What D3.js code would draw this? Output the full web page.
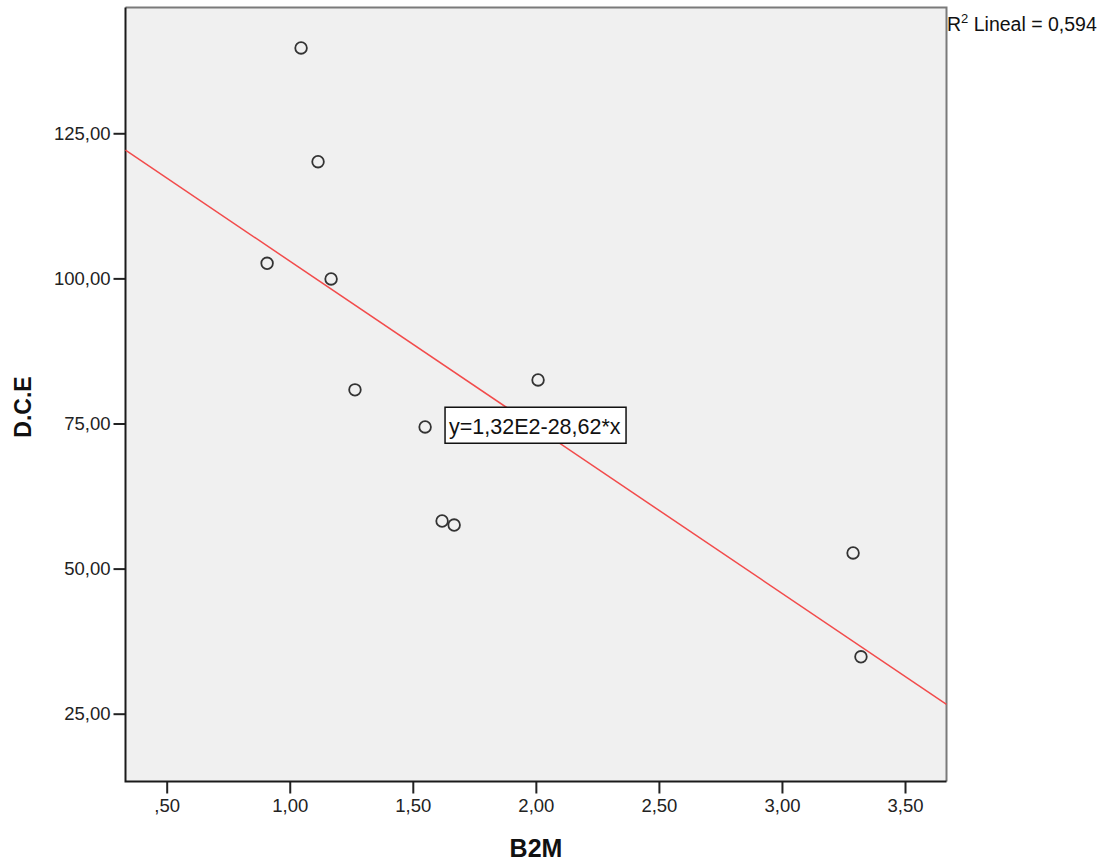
<!DOCTYPE html>
<html>
<head>
<meta charset="utf-8">
<script src="https://cdn.jsdelivr.net/npm/d3@7"></script>
<style>
  body { margin: 0; background: #fff; }
  svg { display: block; font-family: "Liberation Sans", Arial, sans-serif; }
</style>
</head>
<body>
<svg id="chart" width="1102" height="863"></svg>
<script>
// B2M vs D.C.E
let b2m = [1.046, 1.115, 0.908, 1.168, 1.265, 1.550, 1.619, 1.668, 2.009, 3.289, 3.321]
let dce = [139.7, 120.1, 102.6, 99.9, 80.8, 74.4, 58.2, 57.5, 82.5, 52.7, 34.8]
let xTicks = [0.5, 1, 1.5, 2, 2.5, 3, 3.5]
let yTicks = [25, 50, 75, 100, 125]
// fit line as printed on the chart
let fit = { intercept: 131.6, slope: -28.62, r2: "0,594", label: "y=1,32E2-28,62*x" }

let svg = d3.select("#chart")

// plot box (window.top is taken, so box* names)
let boxL = 125.5, boxR = 946.5, boxT = 7.5, boxB = 781.5

let x = d3.scaleLinear().domain([0.3326, 3.6686]).range([boxL, boxR])
let y = d3.scaleLinear().domain([13.32, 146.67]).range([boxB, boxT])

// spss style comma decimals
let fmtX = d => {
    let s = d3.format(".2f")(d).replace(".", ",")
    return s.startsWith("0,") ? s.slice(1) : s
}
let fmtY = d => d3.format(".2f")(d).replace(".", ",")

svg.append("rect")
    .attr("x", boxL).attr("y", boxT)
    .attr("width", boxR - boxL).attr("height", boxB - boxT)
    .attr("fill", "#f0f0f0")

// top + right border are lighter gray
svg.append("path")
    .attr("d", `M${boxL},${boxT}H${boxR}V${boxB}`)
    .attr("fill", "none").attr("stroke", "#7a7a7a").attr("stroke-width", 2)

let xAxis = svg.append("g")
    .attr("transform", `translate(0,${boxB})`)
    .call(d3.axisBottom(x).tickValues(xTicks).tickFormat(fmtX).tickSize(12).tickPadding(5))
let yAxis = svg.append("g")
    .attr("transform", `translate(${boxL},0)`)
    .call(d3.axisLeft(y).tickValues(yTicks).tickFormat(fmtY).tickSize(12).tickPadding(3))

for (let ax of [xAxis, yAxis]) {
    ax.select(".domain").remove()
    ax.selectAll(".tick line").attr("stroke", "#222").attr("stroke-width", 2)
    ax.selectAll(".tick text")
        .attr("fill", "#222")
        .style("font-size", "18.5px")
        .style("font-family", "Liberation Sans, Arial, sans-serif")
}

// left + bottom border in black
svg.append("path")
    .attr("d", `M${boxL},${boxT}V${boxB}H${boxR}`)
    .attr("fill", "none").attr("stroke", "#1a1a1a").attr("stroke-width", 2)

// regression line across the whole x range
let xd = x.domain()
svg.append("line")
    .attr("x1", x(xd[0])).attr("y1", y(fit.intercept + fit.slope * xd[0]))
    .attr("x2", x(xd[1])).attr("y2", y(fit.intercept + fit.slope * xd[1]))
    .attr("stroke", "#f24b4b").attr("stroke-width", 1.5)

svg.append("g").selectAll("circle")
    .data(b2m.map((v, i) => [v, dce[i]]))
    .enter().append("circle")
    .attr("cx", d => x(d[0]))
    .attr("cy", d => y(d[1]))
    .attr("r", 5.8)
    .attr("fill", "none")
    .attr("stroke", "#333")
    .attr("stroke-width", 1.8)

// equation box
let eq = svg.append("g").attr("transform", `translate(${x(1.631)},${y(77.8)})`)
eq.append("rect")
    .attr("width", 181).attr("height", 36)
    .attr("fill", "#fff").attr("stroke", "#111").attr("stroke-width", 1.5)
eq.append("text")
    .attr("x", 4).attr("y", 27)
    .attr("fill", "#111")
    .style("font-size", "21.5px")
    .text(fit.label)

// r squared note, top right outside plot
let r2 = svg.append("text")
    .attr("x", 947).attr("y", 31)
    .attr("fill", "#111")
    .style("font-size", "19.5px")
r2.append("tspan").text("R")
r2.append("tspan").attr("dy", -8).style("font-size", "13px").text("2")
r2.append("tspan").attr("dy", 8).text(" Lineal = " + fit.r2)

// axis titles
svg.append("text")
    .attr("x", 536).attr("y", 857)
    .attr("text-anchor", "middle")
    .attr("font-weight", "bold")
    .style("font-size", "25px")
    .attr("fill", "#111")
    .text("B2M")

svg.append("text")
    .attr("transform", "translate(31,407) rotate(-90)")
    .attr("text-anchor", "middle")
    .attr("font-weight", "bold")
    .style("font-size", "23px")
    .attr("fill", "#111")
    .text("D.C.E")
</script>
</body>
</html>
